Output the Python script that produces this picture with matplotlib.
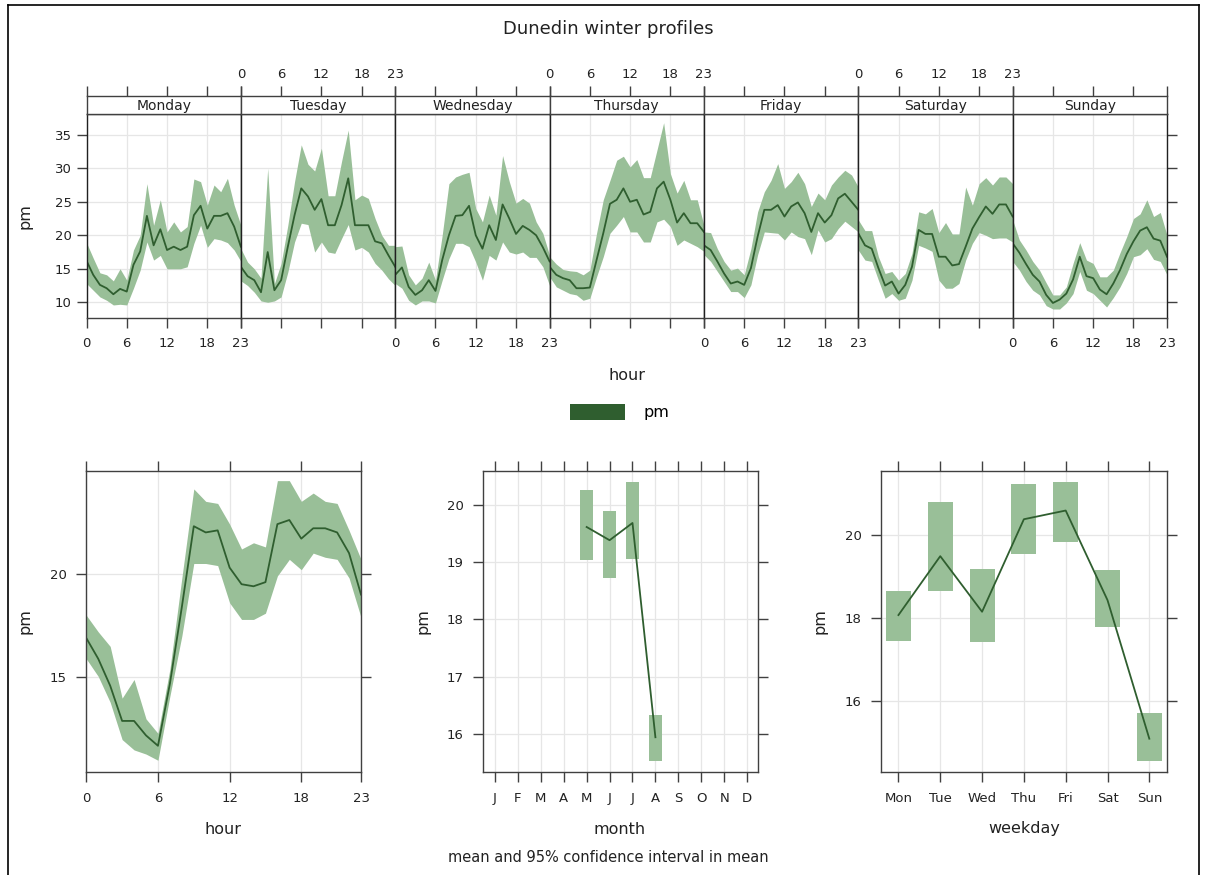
import numpy as np
import matplotlib.pyplot as plt
from matplotlib.patches import Patch
from matplotlib.lines import Line2D

# Figure size in pixels (saved at 100 dpi)
W, H = 1210, 875

LINE = '#2f5e2f'
FILL = '#99bf98'
GRID = '#e6e6e6'
EDGE = '#404040'
TXT = '#222222'

# ---- data: hour of day by weekday (mean, lower, upper 95% CI) ----
hours = list(range(24))
day_names = ["Monday", "Tuesday", "Wednesday", "Thursday", "Friday", "Saturday", "Sunday"]

mon_mean = [16.2, 14.1, 12.6, 12.1, 11.2, 12.0, 11.6, 15.6, 17.6, 22.9, 18.5, 20.9,
            17.8, 18.3, 17.8, 18.3, 23.0, 24.4, 21.0, 22.9, 22.9, 23.3, 21.3, 18.3]
mon_lo = [12.8, 11.8, 10.8, 10.3, 9.6, 9.7, 9.6, 12.1, 14.8, 19.0, 16.3, 17.0,
          15.0, 15.0, 15.0, 15.3, 18.8, 21.5, 18.2, 19.5, 19.3, 18.9, 17.8, 16.1]
mon_hi = [18.9, 16.6, 14.4, 14.1, 13.2, 15.0, 13.3, 17.8, 20.0, 27.7, 21.5, 25.3,
          20.5, 22.0, 20.5, 21.3, 28.4, 28.0, 24.5, 27.5, 26.5, 28.5, 24.5, 21.5]

tue_mean = [15.3, 13.9, 13.3, 11.5, 17.5, 11.8, 13.3, 18.3, 23.0, 27.0, 25.8, 23.8,
            25.4, 21.5, 21.5, 24.5, 28.5, 21.5, 21.5, 21.5, 19.1, 18.8, 17.0, 15.3]
tue_lo = [13.2, 12.5, 11.5, 10.2, 10.0, 10.2, 10.8, 14.5, 19.0, 21.8, 21.6, 17.5,
          19.0, 17.5, 17.3, 19.5, 21.6, 17.8, 18.2, 17.5, 15.8, 14.8, 13.5, 12.5]
tue_hi = [18.0, 16.0, 15.0, 13.6, 30.0, 12.8, 15.8, 21.5, 28.0, 33.5, 30.6, 29.6,
          33.0, 25.9, 25.9, 31.0, 35.7, 25.3, 26.0, 25.5, 22.5, 20.0, 18.5, 18.5]

wed_mean = [14.1, 15.2, 12.3, 11.1, 11.8, 13.3, 11.7, 16.3, 20.0, 22.9, 23.0, 24.4,
            20.0, 18.0, 21.5, 19.3, 24.6, 22.5, 20.2, 21.4, 20.8, 20.0, 18.2, 16.1]
wed_lo = [12.8, 12.1, 10.3, 9.6, 10.2, 10.2, 9.9, 13.3, 16.5, 18.8, 18.8, 18.3,
          16.0, 13.3, 17.0, 16.3, 19.0, 17.5, 17.2, 17.5, 16.7, 16.7, 15.3, 12.5]
wed_hi = [18.3, 18.4, 14.1, 12.6, 13.6, 16.0, 13.3, 20.0, 27.7, 28.7, 29.1, 29.4,
          24.0, 22.0, 26.0, 23.0, 31.9, 28.0, 24.8, 25.5, 24.8, 22.0, 20.3, 17.0]

thu_mean = [15.3, 14.1, 13.6, 13.3, 12.1, 12.1, 12.2, 16.3, 20.3, 24.7, 25.3, 27.0,
            25.0, 25.3, 23.1, 23.5, 27.0, 28.0, 25.3, 21.9, 23.3, 21.8, 21.8, 20.5]
thu_lo = [13.8, 12.3, 11.8, 11.3, 11.1, 10.3, 10.6, 13.8, 16.8, 20.3, 21.5, 22.8,
          20.5, 20.5, 19.0, 19.0, 22.0, 22.4, 21.3, 18.5, 19.3, 18.8, 18.3, 17.6]
thu_hi = [16.8, 15.7, 14.9, 14.7, 14.6, 14.1, 14.8, 20.3, 25.3, 28.2, 31.2, 31.8,
          30.2, 31.3, 28.6, 28.6, 32.7, 36.8, 29.2, 26.3, 28.2, 25.3, 25.3, 21.5]

fri_mean = [18.5, 17.8, 16.1, 14.3, 12.8, 13.1, 12.6, 15.1, 19.8, 23.8, 23.8, 24.5,
            22.8, 24.3, 24.9, 23.3, 20.5, 23.3, 21.9, 23.0, 25.5, 26.2, 25.0, 23.8]
fri_lo = [17.1, 16.1, 14.6, 13.1, 11.6, 11.6, 10.7, 12.6, 17.1, 20.5, 20.4, 20.3,
          19.3, 20.5, 19.8, 19.5, 17.1, 20.8, 19.0, 19.5, 21.0, 22.1, 21.3, 20.5]
fri_hi = [20.5, 20.4, 18.0, 16.1, 14.8, 15.1, 14.1, 18.0, 23.5, 26.5, 28.2, 30.7,
          27.0, 28.0, 29.4, 27.7, 24.3, 26.3, 25.3, 27.5, 28.7, 29.7, 29.0, 27.2]

sat_mean = [20.3, 18.5, 18.0, 15.1, 12.5, 13.1, 11.3, 12.6, 15.3, 20.8, 20.2, 20.2,
            16.8, 16.8, 15.5, 15.7, 18.3, 21.0, 22.7, 24.3, 23.2, 24.6, 24.6, 22.8]
sat_lo = [17.8, 16.3, 16.1, 13.3, 10.6, 11.3, 10.3, 10.6, 13.3, 18.5, 18.1, 17.6,
          13.3, 12.1, 12.1, 12.8, 16.3, 18.8, 20.4, 20.0, 19.5, 19.6, 19.6, 19.0]
sat_hi = [22.3, 20.7, 20.7, 16.8, 14.3, 14.6, 13.3, 14.3, 17.3, 23.5, 23.2, 24.0,
          20.4, 21.9, 20.2, 20.2, 27.2, 24.5, 27.7, 28.6, 27.5, 28.7, 28.7, 27.7]

sun_mean = [18.8, 17.4, 15.7, 14.1, 13.1, 11.1, 9.9, 10.4, 11.3, 13.4, 16.8, 13.9,
            13.6, 11.9, 11.2, 12.8, 14.8, 17.2, 19.1, 20.7, 21.2, 19.5, 19.2, 16.8]
sun_lo = [16.1, 14.8, 13.1, 11.8, 11.1, 9.5, 9.0, 9.0, 9.9, 11.3, 14.6, 11.8,
          11.3, 10.3, 9.3, 10.7, 12.3, 14.3, 16.8, 17.1, 18.0, 16.4, 16.1, 14.1]
sun_hi = [22.3, 19.3, 17.8, 16.1, 14.8, 12.9, 11.1, 11.1, 12.3, 15.8, 18.9, 16.3,
          15.8, 13.8, 13.8, 14.8, 17.4, 19.8, 22.5, 23.2, 25.3, 22.8, 23.4, 20.0]

# ---- data: diurnal profile (all days) ----
hour_mean = [16.9, 15.9, 14.6, 12.9, 12.9, 12.2, 11.7, 14.7, 18.4, 22.3, 22.0, 22.1,
             20.3, 19.5, 19.4, 19.6, 22.4, 22.6, 21.7, 22.2, 22.2, 22.0, 21.0, 19.0]
hour_lo = [15.9, 15.05, 13.8, 12.0, 11.5, 11.3, 11.0, 14.1, 17.0, 20.5, 20.5, 20.4,
           18.6, 17.8, 17.8, 18.1, 19.9, 20.7, 20.2, 21.0, 20.8, 20.7, 19.8, 17.9]
hour_hi = [18.0, 17.2, 16.5, 14.0, 14.9, 13.0, 12.3, 15.4, 19.8, 24.1, 23.5, 23.4,
           22.4, 21.2, 21.5, 21.3, 24.5, 24.5, 23.5, 23.9, 23.5, 23.4, 22.1, 20.7]

# ---- data: monthly means ----
month_labels = ["J", "F", "M", "A", "M", "J", "J", "A", "S", "O", "N", "D"]
months = [5, 6, 7, 8]
month_mean = [19.61, 19.38, 19.68, 15.95]
month_lo = [19.03, 18.73, 19.06, 15.54]
month_hi = [20.26, 19.88, 20.39, 16.34]

# ---- data: weekday means ----
wday_labels = ["Mon", "Tue", "Wed", "Thu", "Fri", "Sat", "Sun"]
wday_mean = [18.08, 19.50, 18.16, 20.39, 20.60, 18.44, 15.10]
wday_lo = [17.46, 18.67, 17.44, 19.55, 19.85, 17.80, 14.56]
wday_hi = [18.66, 20.80, 19.19, 21.23, 21.29, 19.16, 15.71]

week = [(mon_mean, mon_lo, mon_hi), (tue_mean, tue_lo, tue_hi),
        (wed_mean, wed_lo, wed_hi), (thu_mean, thu_lo, thu_hi),
        (fri_mean, fri_lo, fri_hi), (sat_mean, sat_lo, sat_hi),
        (sun_mean, sun_lo, sun_hi)]


def box(l, t, r, b):
    """pixel box (left, top, right, bottom) -> figure rect"""
    return [l / W, 1 - b / H, (r - l) / W, (b - t) / H]


def style(ax):
    for s in ax.spines.values():
        s.set_color(EDGE)
        s.set_linewidth(1.0)
    ax.tick_params(direction='out', length=7, width=1, color=EDGE,
                   labelcolor=TXT, labelsize=9.5)
    ax.set_axisbelow(True)


fig = plt.figure(figsize=(W / 100, H / 100), dpi=100)

# outer frame
fig.add_artist(Line2D([8 / W, 8 / W], [0, 1 - 5 / H], color='black', lw=1.2))
fig.add_artist(Line2D([8 / W, 1199 / W], [1 - 5 / H, 1 - 5 / H], color='black', lw=1.2))
fig.add_artist(Line2D([1199 / W, 1199 / W], [0, 1 - 5 / H], color='black', lw=1.2))

fig.text(608 / W, 1 - 29 / H, "Dunedin winter profiles", ha='center', va='center',
         fontsize=13, color=TXT)

# ---- top: hour by weekday panels ----
edges = np.linspace(86.5, 1167, 8)
for i, (mean, lo, hi) in enumerate(week):
    ax = fig.add_axes(box(edges[i], 114, edges[i + 1], 317.7))
    style(ax)
    ax.fill_between(hours, lo, hi, color=FILL, lw=0)
    ax.plot(hours, mean, color=LINE, lw=1.3)
    ax.set_xlim(0, 23)
    ax.set_ylim(7.7, 38.1)
    ax.set_xticks([0, 6, 12, 18, 23])
    ax.set_yticks([10, 15, 20, 25, 30, 35])
    ax.grid(True, color=GRID, lw=0.9)
    ax.tick_params(axis='x', labelbottom=(i % 2 == 0), pad=7)
    if i == 0:
        ax.tick_params(axis='y', left=True, right=False, labelleft=True)
    elif i == 6:
        ax.tick_params(axis='y', left=False, right=True, labelleft=False)
    else:
        ax.tick_params(axis='y', left=False, right=False, labelleft=False)
    for s in ('left', 'right'):
        ax.spines[s].set_color('#202020')

    # strip with the day name, top ticks above it
    st = fig.add_axes(box(edges[i], 96, edges[i + 1], 114))
    style(st)
    st.set_xlim(0, 23)
    st.set_ylim(0, 1)
    st.set_yticks([])
    st.set_xticks([0, 6, 12, 18, 23])
    st.tick_params(axis='x', bottom=False, labelbottom=False, top=True,
                   labeltop=(i % 2 == 1), pad=3.5)
    st.text(11.5, 0.45, day_names[i], ha='center', va='center', fontsize=10, color=TXT)

fig.text(25 / W, 1 - 216 / H, "pm", rotation=90, ha='center', va='center',
         fontsize=11.5, color=TXT)
fig.text(627 / W, 1 - 376 / H, "hour", ha='center', va='center',
         fontsize=11.5, color=TXT)

fig.legend(handles=[Patch(facecolor=LINE, edgecolor='none')], labels=["pm"],
           loc='center', bbox_to_anchor=(620 / W, 1 - 412 / H), frameon=False,
           fontsize=11.5, handlelength=3.4, handleheight=1.2, handletextpad=1.2)

# ---- bottom left: hour of day ----
ax = fig.add_axes(box(86.3, 470.7, 361, 772.3))
style(ax)
ax.fill_between(hours, hour_lo, hour_hi, color=FILL, lw=0)
ax.plot(hours, hour_mean, color=LINE, lw=1.3)
ax.set_xlim(0, 23)
ax.set_ylim(10.42, 24.98)
ax.set_xticks([0, 6, 12, 18, 23])
ax.set_yticks([15, 20])
ax.grid(True, color=GRID, lw=0.9)
ax.tick_params(top=True, right=True, pad=7)
fig.text(25 / W, 1 - 621 / H, "pm", rotation=90, ha='center', va='center',
         fontsize=11.5, color=TXT)
fig.text(223 / W, 1 - 829 / H, "hour", ha='center', va='center',
         fontsize=11.5, color=TXT)

# ---- bottom middle: month ----
ax = fig.add_axes(box(483.3, 470.7, 758.3, 772.3))
style(ax)
m_lo = np.array(month_lo)
m_hi = np.array(month_hi)
ax.bar(months, m_hi - m_lo, bottom=m_lo, width=0.58, color=FILL, lw=0)
ax.plot(months, month_mean, color=LINE, lw=1.3)
ax.set_xlim(0.49, 12.49)
ax.set_ylim(15.34, 20.59)
ax.set_xticks(range(1, 13))
ax.set_xticklabels(month_labels)
ax.set_yticks([16, 17, 18, 19, 20])
ax.grid(True, color=GRID, lw=0.9)
ax.tick_params(top=True, right=True, pad=7)
fig.text(423 / W, 1 - 621 / H, "pm", rotation=90, ha='center', va='center',
         fontsize=11.5, color=TXT)
fig.text(620 / W, 1 - 829 / H, "month", ha='center', va='center',
         fontsize=11.5, color=TXT)

# ---- bottom right: weekday ----
ax = fig.add_axes(box(881.3, 470.7, 1167.3, 772.3))
style(ax)
w_x = np.arange(1, 8)
w_lo = np.array(wday_lo)
w_hi = np.array(wday_hi)
ax.bar(w_x, w_hi - w_lo, bottom=w_lo, width=0.6, color=FILL, lw=0)
ax.plot(w_x, wday_mean, color=LINE, lw=1.3)
ax.set_xlim(0.59, 7.43)
ax.set_ylim(14.29, 21.56)
ax.set_xticks(w_x)
ax.set_xticklabels(wday_labels)
ax.set_yticks([16, 18, 20])
ax.grid(True, color=GRID, lw=0.9)
ax.tick_params(top=True, right=True, pad=7)
fig.text(820 / W, 1 - 621 / H, "pm", rotation=90, ha='center', va='center',
         fontsize=11.5, color=TXT)
fig.text(1024 / W, 1 - 829 / H, "weekday", ha='center', va='center',
         fontsize=11.5, color=TXT)

fig.text(608 / W, 1 - 857 / H, "mean and 95% confidence interval in mean",
         ha='center', va='center', fontsize=10.5, color=TXT)

fig.savefig("out.png", dpi=100, facecolor='white')
